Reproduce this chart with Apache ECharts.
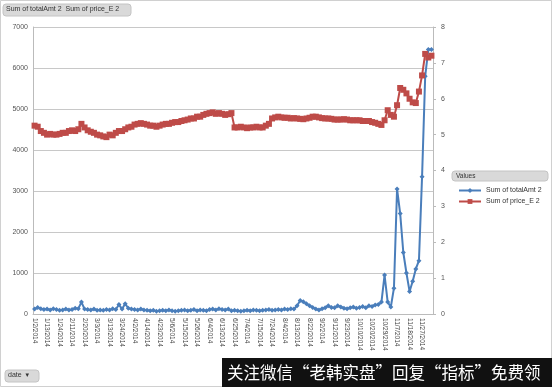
<!DOCTYPE html>
<html><head><meta charset="utf-8">
<script src="https://cdn.jsdelivr.net/npm/echarts@6/dist/echarts.min.js"></script>
<style>html,body{margin:0;padding:0;background:#fff}#c{width:552px;height:387px}</style>
</head><body><div id="c"></div>
<script>
var dates = [
"1/2/2014","1/6/2014","1/8/2014","1/10/2014",
"1/13/2014","1/15/2014","1/17/2014","1/21/2014",
"1/24/2014","1/28/2014","1/30/2014","2/7/2014",
"2/11/2014","2/13/2014","2/17/2014","2/18/2014",
"2/20/2014","2/24/2014","2/26/2014","2/28/2014",
"3/3/2014","3/5/2014","3/7/2014","3/11/2014",
"3/13/2014","3/17/2014","3/19/2014","3/21/2014",
"3/24/2014","3/26/2014","3/28/2014","3/31/2014",
"4/2/2014","4/8/2014","4/10/2014","4/11/2014",
"4/14/2014","4/16/2014","4/18/2014","4/21/2014",
"4/23/2014","4/25/2014","4/29/2014","5/5/2014",
"5/6/2014","5/8/2014","5/12/2014","5/14/2014",
"5/15/2014","5/19/2014","5/21/2014","5/23/2014",
"5/26/2014","5/28/2014","5/30/2014","6/3/2014",
"6/4/2014","6/6/2014","6/10/2014","6/12/2014",
"6/13/2014","6/17/2014","6/19/2014","6/23/2014",
"6/25/2014","6/27/2014","7/1/2014","7/3/2014",
"7/4/2014","7/8/2014","7/10/2014","7/14/2014",
"7/15/2014","7/17/2014","7/21/2014","7/23/2014",
"7/24/2014","7/28/2014","7/30/2014","8/1/2014",
"8/4/2014","8/6/2014","8/8/2014","8/12/2014",
"8/13/2014","8/15/2014","8/19/2014","8/21/2014",
"8/22/2014","8/26/2014","8/28/2014","9/1/2014",
"9/2/2014","9/4/2014","9/9/2014","9/11/2014",
"9/12/2014","9/16/2014","9/18/2014","9/22/2014",
"9/23/2014","9/25/2014","9/29/2014","10/9/2014",
"10/10/2014","10/14/2014","10/16/2014","10/17/2014",
"10/20/2014","10/22/2014","10/24/2014","10/28/2014",
"10/29/2014","10/31/2014","11/4/2014","11/6/2014",
"11/7/2014","11/11/2014","11/13/2014","11/17/2014",
"11/18/2014","11/20/2014","11/24/2014","11/26/2014",
"11/27/2014","12/5/2014","12/15/2014","12/26/2014"
];
var totalAmt = [
120,160,130,110, 120,100,130,110, 90,100,120,100, 110,140,130,290,
120,110,100,120, 90,100,90,110, 100,130,110,230, 120,250,140,120,
110,100,120,100, 90,80,90,70, 80,90,80,100, 80,70,80,90,
100,80,90,110, 80,100,90,80, 110,120,100,130, 110,100,120,80,
90,80,70,80, 90,80,100,90, 80,90,100,110, 90,100,110,100,
120,110,130,120, 200,330,300,250, 200,160,120,100, 130,150,200,160,
150,200,170,140, 130,150,170,140, 160,180,150,200, 180,220,230,290,
950,290,170,630, 3050,2450,1500,1000, 550,800,1100,1300, 3350,5800,6450,6450
];
var price = [
5.25,5.22,5.1,5.05, 5.0,5.02,5.0,5.0, 5.02,5.05,5.05,5.1, 5.12,5.1,5.15,5.3,
5.2,5.12,5.08,5.05, 5.0,4.98,4.95,4.93, 5.0,4.98,5.05,5.1, 5.1,5.15,5.2,5.22,
5.28,5.3,5.32,5.3, 5.28,5.25,5.25,5.22, 5.25,5.28,5.3,5.3, 5.33,5.35,5.35,5.38,
5.4,5.42,5.45,5.45, 5.5,5.5,5.55,5.58, 5.6,5.62,5.58,5.6, 5.58,5.55,5.57,5.6,
5.2,5.2,5.22,5.2, 5.18,5.2,5.2,5.22, 5.2,5.2,5.25,5.3, 5.45,5.48,5.5,5.48,
5.47,5.47,5.45,5.46, 5.45,5.44,5.43,5.45, 5.47,5.5,5.5,5.48, 5.46,5.45,5.45,5.44,
5.42,5.42,5.42,5.43, 5.42,5.4,5.4,5.4, 5.4,5.38,5.38,5.38, 5.35,5.33,5.3,5.27,
5.4,5.68,5.55,5.5, 5.82,6.3,6.25,6.15, 6.0,5.9,5.88,6.2, 6.65,7.25,7.15,7.2
];
var seriesNames = ["Sum of totalAmt 2","Sum of price_E 2"];
var leftTicks = [0,7000,1000];
var rightTicks = [0,8,1];

var blue = "#4a7ebb", red = "#be4b48";
var font = "'Liberation Sans', 'DejaVu Sans', sans-serif";
var chart = echarts.init(document.getElementById('c'), null, {renderer:'canvas'});
chart.setOption({
  animation:false,
  backgroundColor:'#fff',
  textStyle:{fontFamily:font},
  grid:{left:33, right:119, top:27, bottom:73, containLabel:false},
  legend:{
    orient:'vertical', left:453, top:182, itemGap:4,
    itemWidth:22, itemHeight:6,
    textStyle:{fontSize:7, color:'#333', fontFamily:font},
    data:seriesNames
  },
  xAxis:{
    type:'category', data:dates, boundaryGap:true,
    axisLine:{lineStyle:{color:'#bbb'}},
    axisTick:{show:false},
    axisLabel:{interval:3, rotate:-90, fontSize:6.5, color:'#444', margin:4, fontFamily:font}
  },
  yAxis:[
    {type:'value', min:leftTicks[0], max:leftTicks[1], interval:leftTicks[2],
     axisLine:{show:true, lineStyle:{color:'#bbb'}}, axisTick:{show:false},
     splitLine:{lineStyle:{color:'#c8c8c8'}},
     axisLabel:{fontSize:7, color:'#555', margin:5, formatter:function(v){return String(v);}}},
    {type:'value', min:rightTicks[0], max:rightTicks[1], interval:rightTicks[2],
     axisLine:{show:true, lineStyle:{color:'#bbb'}}, axisTick:{show:true, length:3, lineStyle:{color:'#bbb'}},
     splitLine:{show:false},
     axisLabel:{fontSize:7, color:'#555', margin:8}}
  ],
  series:[
    {name:seriesNames[0], type:'line', yAxisIndex:0, data:totalAmt,
     symbol:'diamond', symbolSize:5, showAllSymbol:true,
     lineStyle:{color:blue, width:2}, itemStyle:{color:blue}},
    {name:seriesNames[1], type:'line', yAxisIndex:1, data:price,
     symbol:'rect', symbolSize:6, showAllSymbol:true,
     lineStyle:{color:red, width:2}, itemStyle:{color:red}}
  ],
  graphic:[
    {type:'rect', shape:{x:0.5,y:0.5,width:551,height:386}, style:{fill:'none', stroke:'#d0d0d0', lineWidth:1}, z:0},
    {type:'rect', shape:{x:3,y:4,width:128,height:12,r:3}, style:{fill:'#d9d9d9', stroke:'#c4c4c4'}, z:10},
    {type:'text', left:6, top:6, style:{text:'Sum of totalAmt 2  Sum of price_E 2', fontSize:7, fill:'#333', fontFamily:font}, z:11},
    {type:'rect', shape:{x:452,y:171,width:96,height:10,r:3}, style:{fill:'#d9d9d9', stroke:'#c4c4c4'}, z:10},
    {type:'text', left:456, top:173, style:{text:'Values', fontSize:6.5, fill:'#333', fontFamily:font}, z:11},
    {type:'rect', shape:{x:5,y:370,width:34,height:12,r:3}, style:{fill:'#d9d9d9', stroke:'#c4c4c4'}, z:10},
    {type:'text', left:8, top:372, style:{text:'date  \u25BE', fontSize:7, fill:'#333', fontFamily:font}, z:11},
    {type:'rect', shape:{x:222,y:358,width:330,height:29}, style:{fill:'#111'}, z:20},
    {type:'text', left:227, top:364, style:{text:'关注微信“老韩实盘”回复“指标”免费领', fontSize:16.5, fill:'#fff', fontFamily:"'Noto Sans CJK SC', sans-serif"}, z:21}
  ]
});
</script></body></html>
